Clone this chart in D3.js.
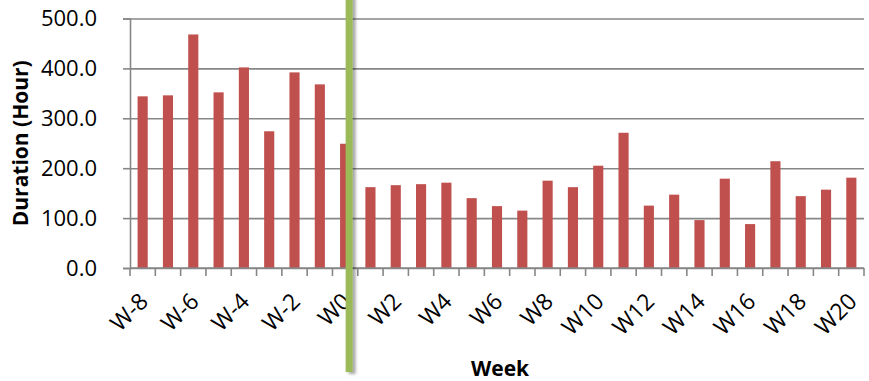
<!DOCTYPE html>
<html>
<head>
<meta charset="utf-8">
<script src="https://cdn.jsdelivr.net/npm/d3@7"></script>
<style>
  html, body { margin: 0; padding: 0; background: #fff; }
  svg { display: block; }
  text { font-family: "Open Sans", "Liberation Sans", sans-serif; fill: #000; }
</style>
</head>
<body>
<svg id="chart" width="869" height="381"></svg>
<script>
// Weekly duration, in hours
const weeks = ["W-8","W-7","W-6","W-5","W-4","W-3","W-2","W-1","W0",
  "W1","W2","W3","W4","W5","W6","W7","W8","W9","W10",
  "W11","W12","W13","W14","W15","W16","W17","W18","W19","W20"];
const hours = [344, 346, 468, 352, 402, 274, 392, 368, 249,
  162, 166, 168, 171, 140, 124, 115, 175, 162, 205,
  271, 125, 147, 96, 179, 88, 214, 144, 157, 181];
const yTicks = [0, 100, 200, 300, 400, 500];
const weekLabels = ["W-8","W-6","W-4","W-2","W0","W2","W4","W6","W8","W10",
  "W12","W14","W16","W18","W20"];
const markerWeek = "W0";

const svg = d3.select("#chart");
const plotLeft = 130, plotRight = 864, plotTop = 18.5, plotBottom = 268;

const x = d3.scaleBand().domain(weeks).range([plotLeft, plotRight]).paddingInner(0).paddingOuter(0);
const y = d3.scaleLinear().domain([0, 500]).range([plotBottom, plotTop]);
const barW = x.bandwidth() * 0.4;
const gridColor = "#878787";

// soft shadow for the marker line
const defs = svg.append("defs");
const shadow = defs.append("filter").attr("id", "markerShadow")
  .attr("x", "-100%").attr("y", "-5%").attr("width", "300%").attr("height", "110%");
shadow.append("feGaussianBlur").attr("in", "SourceAlpha").attr("stdDeviation", 1.5).attr("result", "blur");
shadow.append("feOffset").attr("in", "blur").attr("dx", 2.5).attr("dy", 2).attr("result", "off");
shadow.append("feComponentTransfer").attr("in", "off").attr("result", "soft")
  .append("feFuncA").attr("type", "linear").attr("slope", 0.35);
const merge = shadow.append("feMerge");
merge.append("feMergeNode").attr("in", "soft");
merge.append("feMergeNode").attr("in", "SourceGraphic");

// horizontal gridlines
const grid = svg.append("g").attr("transform", `translate(${plotLeft},0)`)
  .call(d3.axisLeft(y).tickValues(yTicks).tickSize(-(plotRight - plotLeft)).tickFormat(""));
grid.select(".domain").remove();
grid.selectAll("line").attr("stroke", gridColor).attr("stroke-width", 1.6);

// y axis with labels
const yAxis = svg.append("g").attr("transform", `translate(${plotLeft},0)`)
  .call(d3.axisLeft(y).tickValues(yTicks).tickSize(7).tickPadding(26).tickFormat(d3.format(".1f")));
yAxis.select(".domain").attr("stroke", gridColor).attr("stroke-width", 1.6);
yAxis.selectAll("line").attr("stroke", gridColor).attr("stroke-width", 1.6);
yAxis.selectAll("text").attr("font-size", 22).attr("font-family", "Open Sans").attr("fill", "#000");

// bars
svg.append("g").selectAll("rect").data(weeks).join("rect")
  .attr("x", d => x(d) + (x.bandwidth() - barW) / 2)
  .attr("width", barW)
  .attr("y", (d, i) => y(hours[i]))
  .attr("height", (d, i) => y(0) - y(hours[i]))
  .attr("fill", "#C0504D");

// x axis line and category boundary ticks
const xAxis = svg.append("g").attr("transform", `translate(0,${plotBottom})`);
xAxis.append("line").attr("x1", plotLeft).attr("x2", plotRight)
  .attr("stroke", gridColor).attr("stroke-width", 1.6);
const bounds = weeks.map(d => x(d)).concat([x(weeks[weeks.length - 1]) + x.bandwidth()]);
xAxis.selectAll("line.tick").data(bounds).join("line").attr("class", "tick")
  .attr("x1", d => d).attr("x2", d => d).attr("y1", 0).attr("y2", 8)
  .attr("stroke", gridColor).attr("stroke-width", 1.6);

// rotated week labels
svg.append("g").selectAll("text").data(weekLabels).join("text")
  .attr("transform", d => `translate(${x(d) + x.bandwidth() / 2 + 7},${plotBottom + 35}) rotate(-45)`)
  .attr("text-anchor", "end")
  .attr("font-size", 23)
  .text(d => d);

// marker line at the reference week
const mx = x(markerWeek) + x.bandwidth() / 2 + 4;
svg.append("rect").attr("x", mx - 3.5).attr("y", -4).attr("width", 7).attr("height", 376)
  .attr("fill", "#9BBB59").attr("filter", "url(#markerShadow)");

// axis titles
svg.append("text")
  .attr("transform", `translate(28,${(plotTop + plotBottom) / 2}) rotate(-90)`)
  .attr("text-anchor", "middle").attr("font-size", 21).attr("font-weight", "bold")
  .text("Duration (Hour)");
svg.append("text")
  .attr("x", 500).attr("y", 376)
  .attr("text-anchor", "middle").attr("font-size", 21).attr("font-weight", "bold")
  .text("Week");
</script>
</body>
</html>
